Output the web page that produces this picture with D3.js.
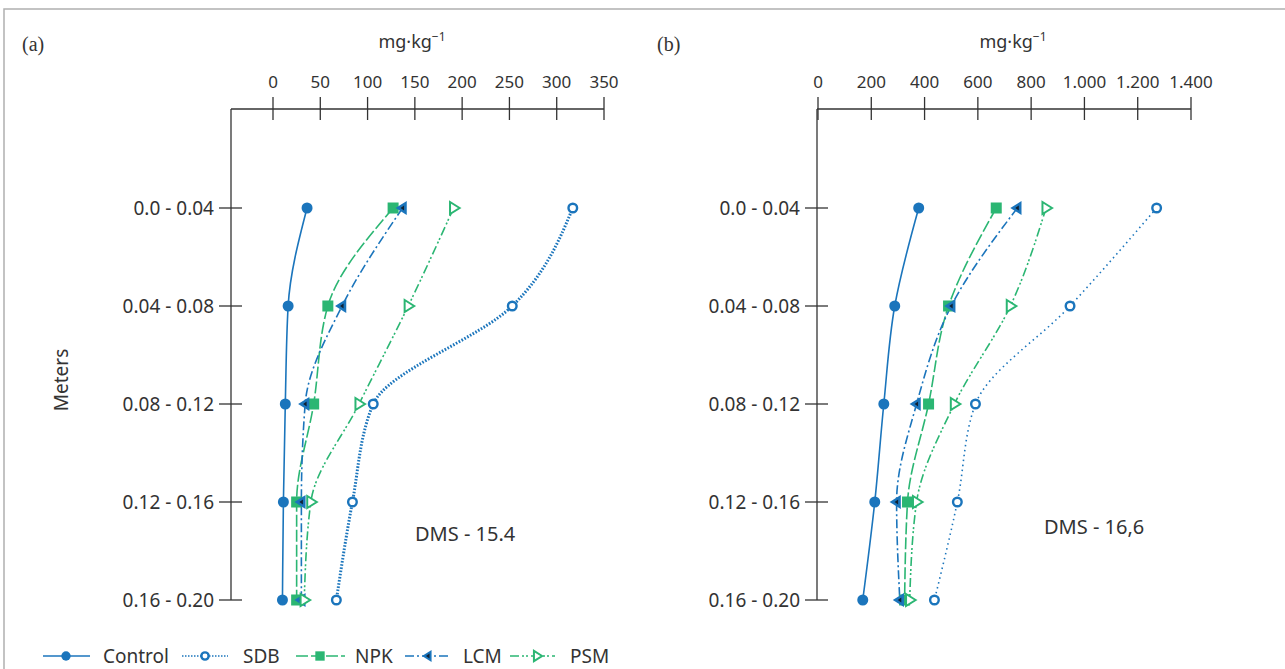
<!DOCTYPE html>
<html>
<head>
<meta charset="utf-8">
<script src="https://cdn.jsdelivr.net/npm/d3@7"></script>
<style>
  html, body { margin: 0; padding: 0; background: #fff; }
  svg { display: block; font-family: 'Noto Sans', sans-serif; }
</style>
</head>
<body>
<div id="chart"></div>
<script>
const depths = ['0.0 - 0.04', '0.04 - 0.08', '0.08 - 0.12', '0.12 - 0.16', '0.16 - 0.20']
const seriesNames = ['Control', 'SDB', 'NPK', 'LCM', 'PSM']

// panel (a), DMS - 15.4
const ticksA = [0, 50, 100, 150, 200, 250, 300, 350]
const controlA = [36, 16, 13, 11, 10]
const sdbA = [317, 253, 106, 84, 67]
const npkA = [127, 58, 43, 25, 25]
const lcmA = [137, 73, 34, 30, 30]
const psmA = [191, 143, 91, 40, 33]

// panel (b), DMS - 16,6
const ticksB = [0, 200, 400, 600, 800, 1000, 1200, 1400]
const controlB = [378, 288, 247, 213, 168]
const sdbB = [1271, 946, 591, 523, 437]
const npkB = [669, 490, 415, 336, 325]
const lcmB = [748, 500, 370, 295, 307]
const psmB = [856, 722, 512, 370, 344]

const blue = '#1b75bc'
const green = '#2bb673'
const ink = '#333'

const locale = d3.formatLocale({ decimal: ',', thousands: '.', grouping: [3], currency: ['', ''] })
const fmt = locale.format(',')

const width = 1285
const height = 669
const svg = d3.select('#chart').append('svg').attr('width', width).attr('height', height)

// frame
svg.append('rect')
  .attr('x', 4).attr('y', 9)
  .attr('width', width + 10).attr('height', height + 10)
  .attr('fill', 'none').attr('stroke', '#b0b0b0').attr('stroke-width', 1.5)

const styles = {
  Control: { color: blue, dash: null, width: 1.6 },
  SDB: { color: blue, dash: '1.6 1.6', width: 3 },
  NPK: { color: green, dash: '12 3', width: 1.6 },
  LCM: { color: blue, dash: '9 3 2 3', width: 1.6 },
  PSM: { color: green, dash: '9 3 2 2 2 3', width: 1.6 },
}

function marker(g, name, x, y, scale = 1) {
  const s = styles[name]
  if (name === 'Control') {
    g.append('circle').attr('cx', x).attr('cy', y).attr('r', 5.5 * scale).attr('fill', s.color)
  } else if (name === 'SDB') {
    g.append('circle').attr('cx', x).attr('cy', y).attr('r', 4.3 * scale)
      .attr('fill', '#fff').attr('stroke', s.color).attr('stroke-width', 2.4)
  } else if (name === 'NPK') {
    const h = 5.5 * scale
    g.append('rect').attr('x', x - h).attr('y', y - h).attr('width', 2 * h).attr('height', 2 * h).attr('fill', s.color)
  } else if (name === 'LCM') {
    const h = 7 * scale
    g.append('path').attr('d', `M${x - h},${y} L${x + h * 0.6},${y - h} L${x + h * 0.6},${y + h} Z`).attr('fill', s.color)
    g.append('path').attr('d', `M${x - 2},${y} L${x + 1.5},${y - 2.5} L${x + 1.5},${y + 2.5} Z`).attr('fill', '#123')
  } else if (name === 'PSM') {
    const h = 6 * scale
    g.append('path').attr('d', `M${x + h},${y} L${x - h * 0.6},${y - h} L${x - h * 0.6},${y + h} Z`)
      .attr('fill', '#fff').attr('stroke', s.color).attr('stroke-width', 2)
  }
}

function drawPanel(cfg) {
  const g = svg.append('g')
  const x = d3.scaleLinear().domain(cfg.domain).range(cfg.range)
  const y = d3.scalePoint().domain(depths).range([208, 600])

  // top axis
  g.append('line').attr('x1', cfg.axisLeft).attr('x2', cfg.range[1]).attr('y1', 109).attr('y2', 109)
    .attr('stroke', ink).attr('stroke-width', 1.3)
  cfg.ticks.forEach((t) => {
    g.append('line').attr('x1', x(t)).attr('x2', x(t)).attr('y1', 97).attr('y2', 120)
      .attr('stroke', ink).attr('stroke-width', 1.3)
    g.append('text').attr('x', x(t)).attr('y', 88).attr('text-anchor', 'middle')
      .attr('font-size', 17).attr('fill', ink).text(fmt(t))
  })
  g.append('text').attr('x', cfg.unitX).attr('y', 48).attr('text-anchor', 'middle')
    .attr('font-size', 18).attr('fill', ink)
    .html('mg·kg<tspan dy="-7" font-size="12">−1</tspan>')
  g.append('text').attr('x', cfg.labelX).attr('y', 51)
    .attr('font-family', "'Liberation Serif', serif").attr('font-size', 20).attr('fill', ink).text(cfg.label)

  // left axis
  g.append('line').attr('x1', cfg.axisLeft).attr('x2', cfg.axisLeft).attr('y1', 109).attr('y2', 600)
    .attr('stroke', ink).attr('stroke-width', 1.3)
  depths.forEach((d) => {
    g.append('line').attr('x1', cfg.axisLeft - 12).attr('x2', cfg.axisLeft + 11).attr('y1', y(d)).attr('y2', y(d))
      .attr('stroke', ink).attr('stroke-width', 1.3)
    g.append('text').attr('x', cfg.axisLeft - 17).attr('y', y(d)).attr('dy', '0.35em').attr('text-anchor', 'end')
      .attr('font-size', 19).attr('fill', ink).text(d)
  })

  // lines
  const line = d3.line()
    .x((d) => x(d.v))
    .y((d) => y(d.depth))
    .curve(d3.curveMonotoneY)

  cfg.series.forEach((vals, i) => {
    const name = seriesNames[i]
    const s = styles[name]
    const pts = vals.map((v, j) => ({ v, depth: depths[j] }))
    const dash = name === 'SDB' ? cfg.sdbDash : s.dash
    const w = name === 'SDB' ? cfg.sdbWidth : s.width
    g.append('path').datum(pts).attr('d', line).attr('fill', 'none')
      .attr('stroke', s.color).attr('stroke-width', w).attr('stroke-dasharray', dash)
  })
  cfg.series.forEach((vals, i) => {
    const name = seriesNames[i]
    vals.forEach((v, j) => marker(g, name, x(v), y(depths[j])))
  })

  g.append('text').attr('x', cfg.dmsX).attr('y', cfg.dmsY).attr('font-size', 20).attr('fill', ink).text(cfg.dms)
}

drawPanel({
  domain: [0, 350], range: [273, 604], ticks: ticksA, axisLeft: 231,
  unitX: 412, label: '(a)', labelX: 22,
  series: [controlA, sdbA, npkA, lcmA, psmA],
  sdbDash: '1.6 1.6', sdbWidth: 3,
  dms: 'DMS - 15.4', dmsX: 415, dmsY: 541,
})

drawPanel({
  domain: [0, 1400], range: [818, 1191], ticks: ticksB, axisLeft: 817,
  unitX: 1013, label: '(b)', labelX: 657,
  series: [controlB, sdbB, npkB, lcmB, psmB],
  sdbDash: '1.5 3.5', sdbWidth: 1.6,
  dms: 'DMS - 16,6', dmsX: 1044, dmsY: 534,
})

// y title
svg.append('text').attr('transform', 'translate(68,380) rotate(-90)').attr('text-anchor', 'middle')
  .attr('font-size', 19).attr('fill', ink).text('Meters')

// legend
const legend = svg.append('g')
const legendItems = [
  { name: 'Control', x1: 43, x2: 90, mx: 66, tx: 103 },
  { name: 'SDB', x1: 182, x2: 228, mx: 205, tx: 243 },
  { name: 'NPK', x1: 296, x2: 345, mx: 320, tx: 355 },
  { name: 'LCM', x1: 405, x2: 450, mx: 428, tx: 463 },
  { name: 'PSM', x1: 510, x2: 555, mx: 537, tx: 570 },
]
legendItems.forEach((it) => {
  const s = styles[it.name]
  legend.append('line').attr('x1', it.x1).attr('x2', it.x2).attr('y1', 656).attr('y2', 656)
    .attr('stroke', s.color).attr('stroke-width', 1.5)
    .attr('stroke-dasharray', it.name === 'SDB' ? '1.5 1.5' : s.dash)
  marker(legend, it.name, it.mx, 656, 0.85)
  legend.append('text').attr('x', it.tx).attr('y', 656).attr('dy', '0.35em')
    .attr('font-size', 19).attr('fill', ink).text(it.name)
})
</script>
</body>
</html>
